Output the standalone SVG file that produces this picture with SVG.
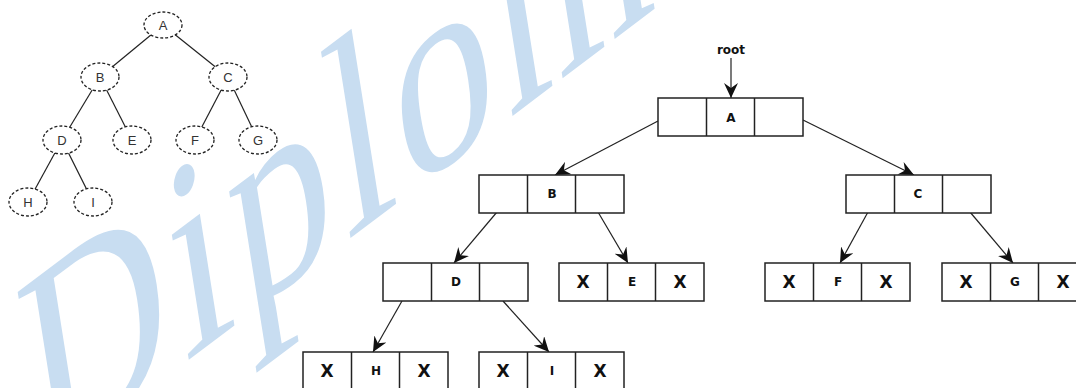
<svg xmlns="http://www.w3.org/2000/svg" xmlns:xlink="http://www.w3.org/1999/xlink" width="1076" height="388" viewBox="0 0 1076 388">
<style>
.wm{font-family:"Liberation Serif",serif;font-size:240px;letter-spacing:8px;fill:#c8ddf1}
.edge{stroke:#222;stroke-width:1.2;fill:none}
.tn ellipse{fill:#fff;stroke:#222;stroke-width:1.3;stroke-dasharray:3 2}
.tl{font-family:"Liberation Sans",Arial,sans-serif;font-size:13px;fill:#333;text-anchor:middle;dominant-baseline:central}
.cell{fill:#fff;stroke:#222;stroke-width:1.5}
.lb{font-family:"DejaVu Sans",sans-serif;font-weight:bold;font-size:12px;fill:#111;text-anchor:middle;dominant-baseline:central}
.x{font-family:"DejaVu Sans",sans-serif;font-weight:bold;font-size:17px;fill:#111;text-anchor:middle;dominant-baseline:central}
.arr{stroke:#222;stroke-width:1.2;fill:none;marker-end:url(#ah)}
.rt{font-family:"DejaVu Sans",sans-serif;font-weight:bold;font-size:12px;fill:#111;text-anchor:middle}
</style>
<defs>
<marker id="ah" markerUnits="userSpaceOnUse" markerWidth="16" markerHeight="14" refX="15" refY="7" orient="auto" viewBox="0 0 16 14">
<path d="M0,0 L15,7 L0,14 L5,7 z" fill="#111"/>
</marker>
<g id="box">
<rect class="cell" x="0" y="0" width="145" height="38"/>
<line x1="48.5" y1="0" x2="48.5" y2="38" stroke="#222" stroke-width="1.5"/>
<line x1="96.5" y1="0" x2="96.5" y2="38" stroke="#222" stroke-width="1.5"/>
</g>
</defs>
<rect width="1076" height="388" fill="#fff"/>
<text class="wm" transform="translate(40,472) rotate(-37) skewX(-28)">Diplom</text>

<g id="left-tree">
<g id="tree-edges">
<line class="edge" x1="163" y1="25" x2="100" y2="77"/>
<line class="edge" x1="163" y1="25" x2="228" y2="77"/>
<line class="edge" x1="100" y1="77" x2="62" y2="140"/>
<line class="edge" x1="100" y1="77" x2="132" y2="140"/>
<line class="edge" x1="228" y1="77" x2="195" y2="140"/>
<line class="edge" x1="228" y1="77" x2="258" y2="140"/>
<line class="edge" x1="62" y1="140" x2="28" y2="202"/>
<line class="edge" x1="62" y1="140" x2="93" y2="202"/>
</g>
<g id="tA" class="tn"><ellipse cx="163" cy="25" rx="19" ry="13"/><text class="tl" x="163" y="25">A</text></g>
<g id="tB" class="tn"><ellipse cx="100" cy="77" rx="19" ry="14"/><text class="tl" x="100" y="77">B</text></g>
<g id="tC" class="tn"><ellipse cx="228" cy="77" rx="19" ry="14"/><text class="tl" x="228" y="77">C</text></g>
<g id="tD" class="tn"><ellipse cx="62" cy="140" rx="19" ry="14"/><text class="tl" x="62" y="140">D</text></g>
<g id="tE" class="tn"><ellipse cx="132" cy="140" rx="19" ry="14"/><text class="tl" x="132" y="140">E</text></g>
<g id="tF" class="tn"><ellipse cx="195" cy="140" rx="19" ry="14"/><text class="tl" x="195" y="140">F</text></g>
<g id="tG" class="tn"><ellipse cx="258" cy="140" rx="19" ry="14"/><text class="tl" x="258" y="140">G</text></g>
<g id="tH" class="tn"><ellipse cx="28" cy="202" rx="19" ry="14"/><text class="tl" x="28" y="202">H</text></g>
<g id="tI" class="tn"><ellipse cx="93" cy="202" rx="19" ry="14"/><text class="tl" x="93" y="202">I</text></g>
</g>

<g id="connectors">
<line class="arr" x1="731" y1="58" x2="731" y2="98"/>
<line class="arr" x1="658" y1="121" x2="555" y2="175"/>
<line class="arr" x1="803" y1="120" x2="914" y2="175"/>
<line class="arr" x1="497" y1="212" x2="454" y2="263"/>
<line class="arr" x1="598" y1="212" x2="628" y2="263"/>
<line class="arr" x1="868" y1="212" x2="840" y2="263"/>
<line class="arr" x1="970" y1="212" x2="1013" y2="263"/>
<line class="arr" x1="402" y1="301" x2="373" y2="352"/>
<line class="arr" x1="503" y1="301" x2="549" y2="352"/>
</g>

<g id="root-label"><text class="rt" x="731" y="54">root</text></g>

<g id="nA"><use xlink:href="#box" x="658" y="98"/><text class="lb" x="731" y="118">A</text></g>
<g id="nB"><use xlink:href="#box" x="479" y="175"/><text class="lb" x="552" y="194">B</text></g>
<g id="nC"><use xlink:href="#box" x="846" y="175"/><text class="lb" x="918" y="194">C</text></g>
<g id="nD"><use xlink:href="#box" x="383" y="263"/><text class="lb" x="456" y="282">D</text></g>
<g id="nE"><use xlink:href="#box" x="559" y="263"/><text class="x" x="583" y="282">X</text><text class="lb" x="632" y="282">E</text><text class="x" x="680" y="282">X</text></g>
<g id="nF"><use xlink:href="#box" x="765" y="263"/><text class="x" x="789" y="282">X</text><text class="lb" x="838" y="282">F</text><text class="x" x="886" y="282">X</text></g>
<g id="nG"><use xlink:href="#box" x="942" y="263"/><text class="x" x="966" y="282">X</text><text class="lb" x="1015" y="282">G</text><text class="x" x="1063" y="282">X</text></g>
<g id="nH"><use xlink:href="#box" x="303" y="352"/><text class="x" x="327" y="371">X</text><text class="lb" x="376" y="371">H</text><text class="x" x="424" y="371">X</text></g>
<g id="nI"><use xlink:href="#box" x="479" y="352"/><text class="x" x="503" y="371">X</text><text class="lb" x="552" y="371">I</text><text class="x" x="600" y="371">X</text></g>
</svg>
